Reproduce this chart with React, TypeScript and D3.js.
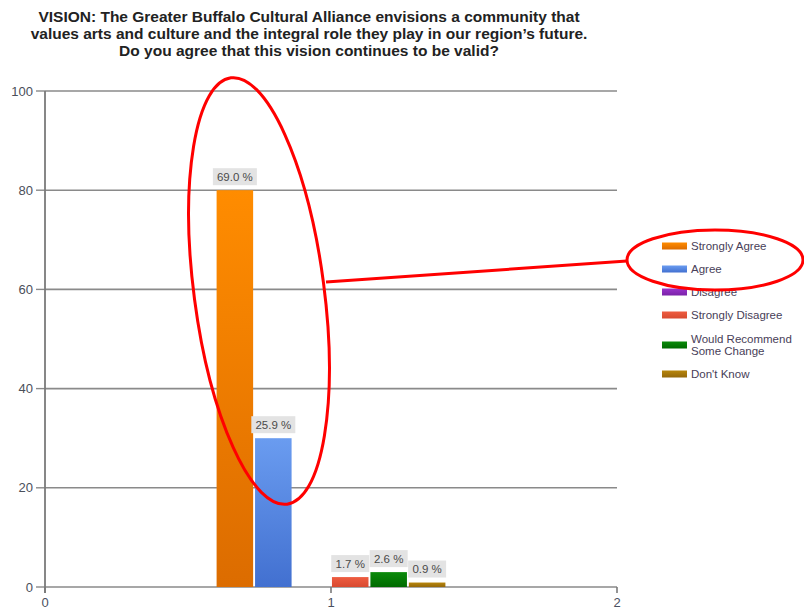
import React from "react";
import * as d3 from "d3";

const titleLines = [
  "VISION: The Greater Buffalo Cultural Alliance envisions a community that",
  "values arts and culture and the integral role they play in our region\u2019s future.",
  "Do you agree that this vision continues to be valid?",
];
const seriesNames = [
  "Strongly Agree",
  "Agree",
  "Disagree",
  "Strongly Disagree",
  "Would Recommend Some Change",
  "Don't Know",
];
const barHeights = [80, 30, 0, 2, 3, 0.9];
const labelValues: (number | null)[] = [69.0, 25.9, null, 1.7, 2.6, 0.9];
const seriesColors = [
  ["#ff8c00", "#dc6c00"],
  ["#6a9cf0", "#4270d0"],
  ["#9932cc", "#7a22a8"],
  ["#ee5c40", "#d84a30"],
  ["#0a8a0a", "#006a00"],
  ["#b8860b", "#94680a"],
];
const yTicks = [0, 20, 40, 60, 80, 100];
const xTicks = [0, 1, 2];
const groupCenter = 1;

export default function App() {
  const W = 804;
  const H = 609;
  const x = d3.scaleLinear().domain([0, 2]).range([45, 617]);
  const y = d3.scaleLinear().domain([0, 100]).range([587, 91]);
  const band = d3
    .scaleBand<string>()
    .domain(seriesNames)
    .range([x(groupCenter - 0.4), x(groupCenter + 0.4)])
    .paddingInner(0.05)
    .paddingOuter(0);
  const font = "'Liberation Sans', Arial, sans-serif";
  const narrow = "'Liberation Sans Narrow', 'Liberation Sans', Arial, sans-serif";

  const legendRows = [
    { name: "Strongly Agree", lines: ["Strongly Agree"], cy: 246 },
    { name: "Agree", lines: ["Agree"], cy: 269 },
    { name: "Disagree", lines: ["Disagree"], cy: 292 },
    { name: "Strongly Disagree", lines: ["Strongly Disagree"], cy: 315 },
    { name: "Would Recommend Some Change", lines: ["Would Recommend", "Some Change"], cy: 345 },
    { name: "Don't Know", lines: ["Don't Know"], cy: 374 },
  ];

  return (
    <svg
      width={W}
      height={H}
      style={{ position: "fixed", left: 0, top: 0, display: "block", background: "#fff" }}
    >
      <defs>
        {seriesColors.map((c, i) => (
          <linearGradient key={i} id={`g${i}`} x1="0" y1="0" x2="0" y2="1">
            <stop offset="0" stopColor={c[0]} />
            <stop offset="1" stopColor={c[1]} />
          </linearGradient>
        ))}
      </defs>
      {titleLines.map((t, i) => (
        <text
          key={i}
          x={309}
          y={22 + i * 17}
          textAnchor="middle"
          fontFamily={font}
          fontWeight="bold"
          fontSize={15.5}
          fill="#222"
        >
          {t}
        </text>
      ))}
      {/* gridlines */}
      {yTicks.map((t) => (
        <g key={t}>
          <line x1={x(0)} x2={x(2)} y1={y(t)} y2={y(t)} stroke="#8a8a8a" strokeWidth={1.6} />
          <line x1={36} x2={x(0)} y1={y(t)} y2={y(t)} stroke="#8a8a8a" strokeWidth={1.4} />
          <text
            x={33}
            y={y(t)}
            dy="0.35em"
            textAnchor="end"
            fontFamily={font}
            fontSize={13}
            fill="#4a4f5a"
          >
            {t}
          </text>
        </g>
      ))}
      <line x1={x(0)} x2={x(0)} y1={y(100)} y2={593} stroke="#7a7a7a" strokeWidth={1.8} />
      {xTicks.map((t) => (
        <g key={t}>
          <line x1={x(t)} x2={x(t)} y1={y(0)} y2={593} stroke="#7a7a7a" strokeWidth={1.6} />
          <text
            x={x(t)}
            y={607}
            textAnchor="middle"
            fontFamily={font}
            fontSize={13}
            fill="#4a5060"
          >
            {t}
          </text>
        </g>
      ))}
      {/* bars */}
      {seriesNames.map((s, i) => {
        const bx = band(s)!;
        const bw = band.bandwidth();
        const top = y(barHeights[i]);
        return barHeights[i] > 0 ? (
          <rect key={s} x={bx} y={top} width={bw} height={y(0) - top} fill={`url(#g${i})`} />
        ) : null;
      })}
      {/* labels */}
      {seriesNames.map((s, i) => {
        const v = labelValues[i];
        if (v == null) return null;
        const cx = band(s)! + band.bandwidth() / 2;
        const top = y(barHeights[i]);
        const txt = `${v.toFixed(1)} %`;
        const bw = txt.length * 6 + 8;
        return (
          <g key={s}>
            <rect x={cx - bw / 2} y={top - 22} width={bw} height={17} fill="#e3e3e3" />
            <text
              x={cx}
              y={top - 13.5}
              dy="0.35em"
              textAnchor="middle"
              fontFamily={narrow}
              fontSize={11.5}
              fill="#4a4a4a"
            >
              {txt}
            </text>
          </g>
        );
      })}
      {/* legend */}
      {legendRows.map((r) => {
        const i = seriesNames.indexOf(r.name);
        return (
          <g key={r.name}>
            <rect x={662} y={r.cy - 3.5} width={25} height={7} fill={`url(#g${i})`} />
            {r.lines.map((l, j) => (
              <text
                key={j}
                x={691}
                y={r.cy + (j - (r.lines.length - 1) / 2) * 12}
                dy="0.35em"
                fontFamily={narrow}
                fontSize={11.5}
                fill="#484058"
              >
                {l}
              </text>
            ))}
          </g>
        );
      })}
      {/* annotations */}
      <ellipse
        cx={259}
        cy={291}
        rx={65}
        ry={215}
        transform="rotate(-7.5 259 291)"
        fill="none"
        stroke="#ff0000"
        strokeWidth={3}
      />
      <line x1={326} y1={282} x2={627} y2={261} stroke="#ff0000" strokeWidth={3} />
      <ellipse cx={715} cy={260} rx={88} ry={30} fill="none" stroke="#ff0000" strokeWidth={3} />
    </svg>
  );
}
